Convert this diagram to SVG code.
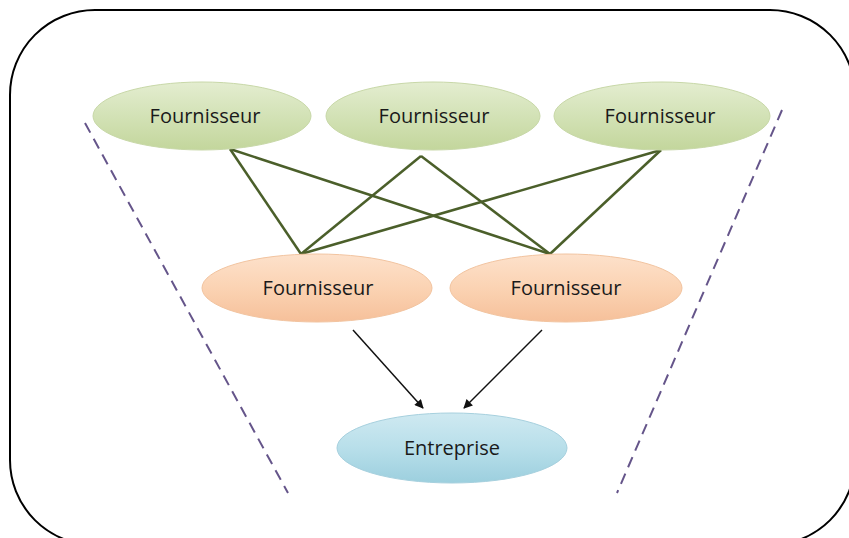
<svg xmlns="http://www.w3.org/2000/svg" width="849" height="538" viewBox="0 0 849 538">
<defs>
<style>
.lbl{font-family:"Open Sans","Liberation Sans",sans-serif;font-size:20px;fill:#1a1a1a;text-anchor:middle;dominant-baseline:central}
.green{fill:url(#gG);stroke:#c8d8a8;stroke-width:1}
.orange{fill:url(#gO);stroke:#f2c4a0;stroke-width:1}
.blue{fill:url(#gB);stroke:#a6d0de;stroke-width:1}
.link{stroke:#4b5f2a;stroke-width:2.5;fill:none}
.arrow{stroke:#111;stroke-width:1.5;fill:none;marker-end:url(#ah)}
.dash{stroke:#65558a;stroke-width:2;stroke-dasharray:11 7;fill:none}
</style>
<linearGradient id="gG" x1="0" y1="0" x2="0" y2="1"><stop offset="0" stop-color="#e4edd0"/><stop offset="0.5" stop-color="#d3e2b6"/><stop offset="1" stop-color="#c3d69c"/></linearGradient>
<linearGradient id="gO" x1="0" y1="0" x2="0" y2="1"><stop offset="0" stop-color="#fde1cb"/><stop offset="0.5" stop-color="#fbd3b3"/><stop offset="1" stop-color="#f6c09a"/></linearGradient>
<linearGradient id="gB" x1="0" y1="0" x2="0" y2="1"><stop offset="0" stop-color="#cfe9f1"/><stop offset="0.5" stop-color="#b8dfea"/><stop offset="1" stop-color="#9ccfde"/></linearGradient>
<marker id="ah" viewBox="0 0 10 10" refX="9" refY="5" markerWidth="11" markerHeight="9" orient="auto" markerUnits="userSpaceOnUse"><path d="M0,0 L10,5 L0,10 z" fill="#111"/></marker>
</defs>
<rect width="849" height="538" fill="#ffffff"/>
<rect id="frame" x="10" y="10" width="845" height="535" rx="85" ry="85" fill="none" stroke="#000" stroke-width="2"/>
<g id="boundaries">
<line class="dash" x1="85" y1="123" x2="288" y2="493"/>
<line class="dash" x1="782" y1="110" x2="617" y2="493"/>
</g>
<g id="connectors">
<line class="link" x1="230" y1="149" x2="301" y2="254"/>
<line class="link" x1="230" y1="149" x2="550" y2="254"/>
<line class="link" x1="421" y1="156" x2="301" y2="254"/>
<line class="link" x1="421" y1="156" x2="550" y2="254"/>
<line class="link" x1="661" y1="150" x2="301" y2="254"/>
<line class="link" x1="661" y1="150" x2="550" y2="254"/>
<line class="arrow" x1="353" y1="330" x2="423" y2="408"/>
<line class="arrow" x1="542" y1="330" x2="464" y2="408"/>
</g>
<g id="f1"><ellipse class="green" cx="202" cy="116" rx="109" ry="34"/><text class="lbl" x="205" y="115">Fournisseur</text></g>
<g id="f2"><ellipse class="green" cx="433" cy="116" rx="107" ry="34"/><text class="lbl" x="434" y="115">Fournisseur</text></g>
<g id="f3"><ellipse class="green" cx="662" cy="116" rx="108" ry="34"/><text class="lbl" x="660" y="115">Fournisseur</text></g>
<g id="f4"><ellipse class="orange" cx="317" cy="288" rx="115" ry="34"/><text class="lbl" x="318" y="287">Fournisseur</text></g>
<g id="f5"><ellipse class="orange" cx="566" cy="288" rx="116" ry="34"/><text class="lbl" x="566" y="287">Fournisseur</text></g>
<g id="entreprise"><ellipse class="blue" cx="452" cy="448" rx="115" ry="35"/><text class="lbl" x="452" y="447">Entreprise</text></g>
</svg>
